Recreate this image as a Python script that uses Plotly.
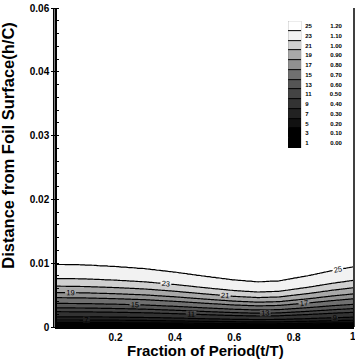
import numpy as np
import plotly.graph_objects as go

# ---- data ----
# legend: contour index and its value
level_index = [25, 23, 21, 19, 17, 15, 13, 11, 9, 7, 5, 3, 1]
level_value = [1.20, 1.10, 1.00, 0.90, 0.80, 0.70, 0.60, 0.50, 0.40, 0.30, 0.20, 0.10, 0.00]

# height (h/C) of each contour index at t/T = 0
profile_index = [1, 3, 5, 7, 9, 11, 13, 15, 17, 19, 21, 23, 25, 27]
profile_height = [0.0, 0.0003, 0.0007, 0.0011, 0.0016, 0.0024, 0.0030, 0.0037,
                  0.0046, 0.0054, 0.0064, 0.0076, 0.0098, 0.0200]

# relative layer thickness over the period
phase_t = [0.0, 0.10, 0.20, 0.30, 0.40, 0.50, 0.60, 0.68, 0.75, 0.85, 0.93, 1.0]
thickness_ratio = [1.0, 0.99, 0.965, 0.93, 0.875, 0.81, 0.75, 0.72, 0.735, 0.82, 0.90, 0.96]

# band colours (band starting at each index, low to high)
band_colors = ["#000000", "#000000", "#111111", "#222222", "#333333", "#444444",
               "#555555", "#707070", "#909090", "#a8a8a8", "#d0d0d0", "#f2f2f2", "#ffffff"]

x_ticks = [0.2, 0.4, 0.6, 0.8, 1.0]
x_ticktext = ["0.2", "0.4", "0.6", "0.8", "1"]
y_ticks = [0.0, 0.01, 0.02, 0.03, 0.04, 0.05]
y_ticktext = ["0", "0.01", "0.02", "0.03", "0.04", "0.06"]

# ---- grid the library needs ----
xg = np.linspace(0.0, 1.0, 201)
yg = np.arange(0.0, 0.01205, 0.0001)
ratio = np.interp(xg, phase_t, thickness_ratio)
Z = np.array([[np.interp(y / r, profile_height, profile_index) for r in ratio] for y in yg])

zmin, zmax = 1, 27
nb = len(band_colors)
cscale = []
for i, c in enumerate(band_colors):
    cscale.append([i / nb, c])
    cscale.append([(i + 1) / nb, c])

FONT = "Liberation Sans"

fig = go.Figure()
fig.add_trace(go.Heatmap(x=xg, y=yg, z=Z, colorscale=cscale, zmin=zmin, zmax=zmax,
                         zsmooth="best", showscale=False, hoverinfo="skip"))
fig.add_trace(go.Contour(x=xg, y=yg, z=Z, showscale=False,
                         contours=dict(start=3, end=25, size=2, coloring="none",
                                       showlabels=True,
                                       labelfont=dict(size=7.5, color="black", family=FONT)),
                         line=dict(color="black", width=1.2, smoothing=1), hoverinfo="skip"))

# legend bar
label_text = []
for idx, val in zip(level_index, level_value):
    s = str(idx)
    pad = "\u00a0" * (2 * (2 - len(s)))
    label_text.append("<b>" + s + pad + "\u00a0" * 11 + f"{val:.2f}" + "</b>")
fig.add_trace(go.Heatmap(x=[0], y=level_index, z=[[i + 1] for i in level_index],
                         colorscale=cscale, zmin=zmin, zmax=zmax, showscale=False,
                         ygap=1, xaxis="x2", yaxis="y2", hoverinfo="skip"))

axis_font = dict(family=FONT, size=10, color="black")
annotations = [
    dict(text="<b>Fraction of Period(t/T)</b>", xref="paper", yref="paper", x=0.5, y=-0.074,
         xanchor="center", yanchor="middle", showarrow=False,
         font=dict(family=FONT, size=15, color="black")),
    dict(text="<b>Distance from Foil Surface(h/C)</b>", xref="paper", yref="paper",
         x=-0.163, y=0.57, xanchor="center", yanchor="middle", textangle=-90,
         showarrow=False, font=dict(family=FONT, size=16.5, color="black")),
    # last x tick label sits on the right edge, where plotly drops it
    dict(text="<b>" + x_ticktext[-1] + "</b>", xref="x", yref="paper", x=x_ticks[-1], y=-0.031,
         xanchor="center", yanchor="middle", showarrow=False, font=axis_font),
]

fig.update_layout(
    width=355, height=362,
    margin=dict(l=57, r=1, t=8, b=35),
    paper_bgcolor="white", plot_bgcolor="white",
    showlegend=False,
    xaxis=dict(range=[0.003, 1.003], tickvals=x_ticks[:-1],
               ticktext=["<b>" + t + "</b>" for t in x_ticktext[:-1]],
               showgrid=False, zeroline=False, showline=True, linecolor="black", linewidth=1.5,
               ticks="", tickfont=axis_font),
    yaxis=dict(range=[0.0, 0.05], tickvals=y_ticks,
               ticktext=["<b>" + t + "</b>" for t in y_ticktext],
               showgrid=False, zeroline=False, showline=True, linecolor="black", linewidth=1.5,
               ticks="outside", ticklen=4, tickwidth=1.2, tickcolor="black", tickfont=axis_font,
               minor=dict(ticks="inside", ticklen=2, tickwidth=1, dtick=0.002, tickcolor="black")),
    xaxis2=dict(domain=[0.778, 0.822], anchor="y2", range=[-0.5, 0.5], visible=False),
    yaxis2=dict(domain=[0.561, 0.959], anchor="x2", range=[0, 26], side="right",
                tickvals=level_index, ticktext=label_text, ticks="", showgrid=False,
                zeroline=False, showline=False, ticklabelstandoff=3,
                tickfont=dict(family=FONT, size=6, color="black")),
    shapes=[
        dict(type="rect", xref="x2", yref="y2", x0=-0.5, x1=0.5, y0=0, y1=26,
             fillcolor="black", line=dict(color="black", width=1), layer="below"),
        dict(type="line", xref="paper", yref="paper", x0=1, x1=1, y0=0, y1=1,
             line=dict(color="black", width=1.5)),
        dict(type="line", xref="paper", yref="paper", x0=-0.011, x1=-0.011, y0=0, y1=1,
             line=dict(color="black", width=1.5)),
    ],
    annotations=annotations,
)

fig.write_html("out.html")
